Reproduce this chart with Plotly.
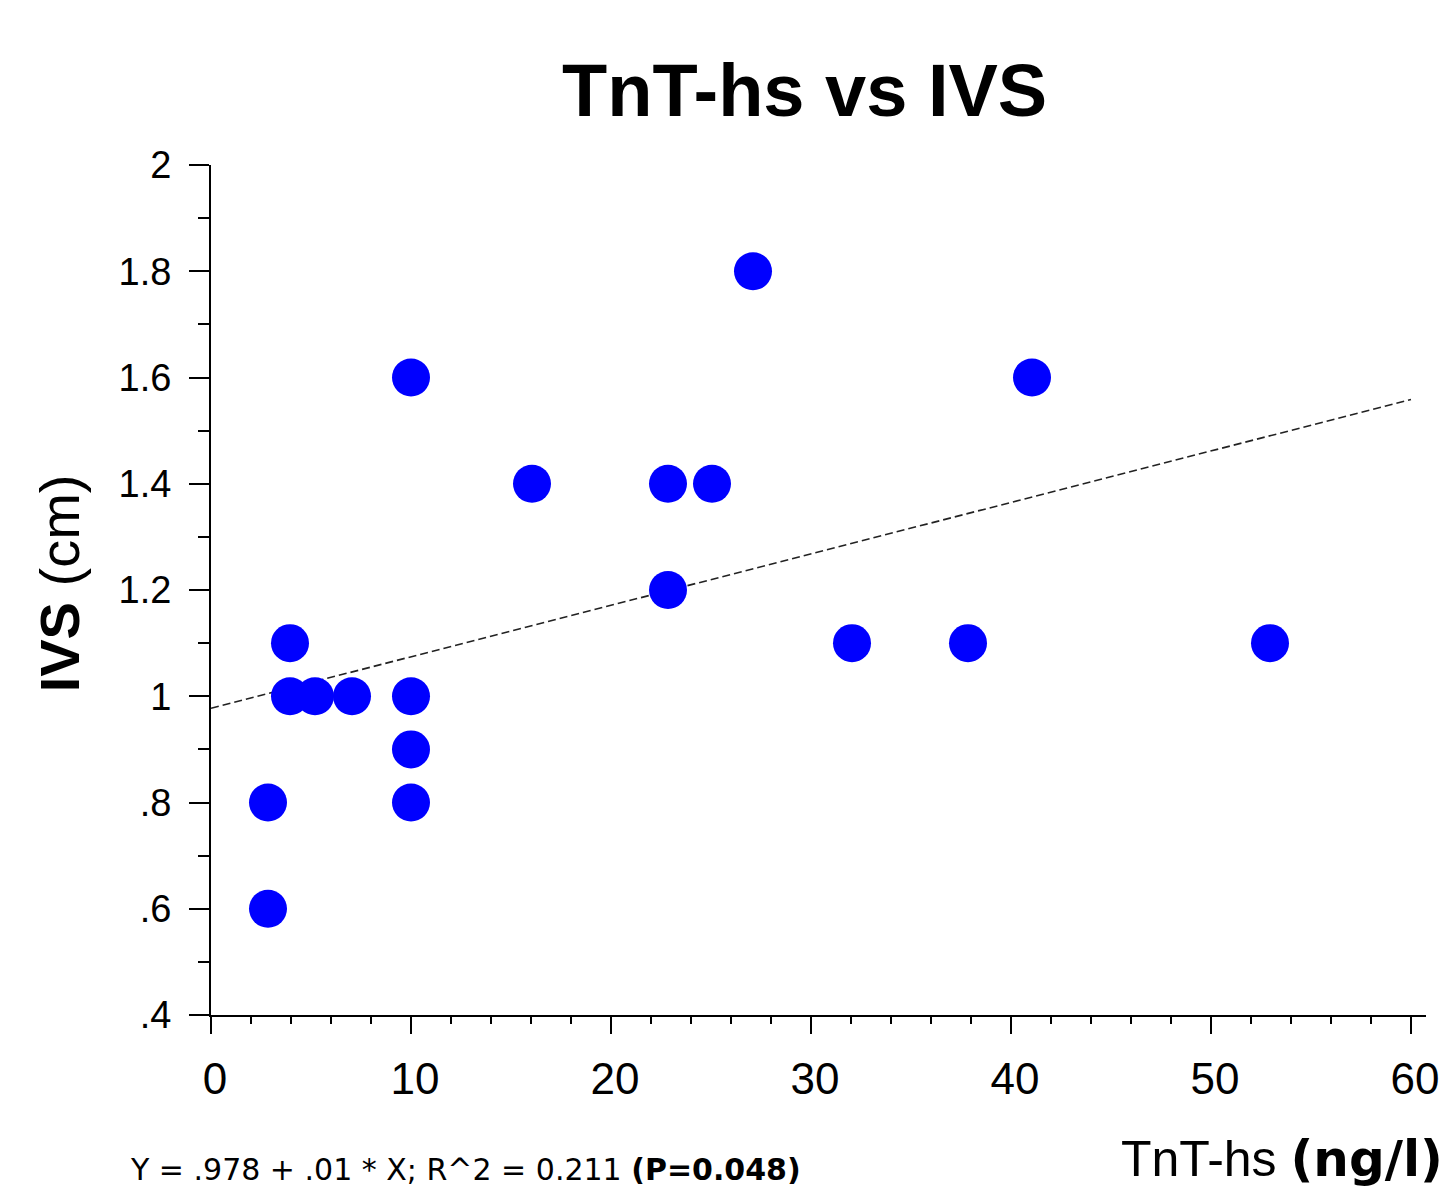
import numpy as np
import plotly.graph_objects as go

# Data
tnt_hs = [2.85, 2.85, 3.95, 3.95, 5.2, 7.05, 10, 10, 10, 10,
          16.05, 22.85, 22.85, 25.05, 27.1, 32.05, 37.85, 41.05, 52.95]
ivs = [0.8, 0.6, 1.1, 1.0, 1.0, 1.0, 1.6, 1.0, 0.9, 0.8,
       1.4, 1.4, 1.2, 1.4, 1.8, 1.1, 1.1, 1.6, 1.1]

x_tickvals = [0, 10, 20, 30, 40, 50, 60]
x_ticktext = ["0", "10", "20", "30", "40", "50", "60"]
y_tickvals = [0.4, 0.6, 0.8, 1.0, 1.2, 1.4, 1.6, 1.8, 2.0]
y_ticktext = [".4", ".6", ".8", "1", "1.2", "1.4", "1.6", "1.8", "2"]

title_text = "<b>TnT-hs vs IVS</b>"
x_title = "TnT-hs <span style=\"font-family:'DejaVu Sans'\"><b>(ng/l)</b></span>"
y_title = "<b>IVS</b> (cm)"
eq_text = "Y = .978 + .01 * X; R^2 = 0.211 <b>(P=0.048)</b>"

# regression from data
slope, intercept = np.polyfit(tnt_hs, ivs, 1)
fit_x = np.array([0, 60])
fit_y = intercept + slope * fit_x

FONT = "Arial, 'Liberation Sans', sans-serif"

fig = go.Figure()
fig.add_trace(go.Scatter(x=fit_x, y=fit_y, mode="lines",
                         line=dict(color="#222222", width=1.6, dash="8px,4px"),
                         hoverinfo="skip", showlegend=False))
fig.add_trace(go.Scatter(x=tnt_hs, y=ivs, mode="markers",
                         marker=dict(color="#0000FF", size=38, line=dict(width=0)),
                         showlegend=False))

axis_common = dict(showgrid=False, zeroline=False, showline=True,
                   linecolor="black", linewidth=2, ticks="outside",
                   tickcolor="black", tickwidth=2)

fig.update_xaxes(range=[0, 60.75], tickvals=x_tickvals, ticktext=x_ticktext,
                 ticklen=17, tickfont=dict(family=FONT, size=44, color="black"),
                 ticklabelshift=4, ticklabelstandoff=7,
                 minor=dict(ticks="outside", ticklen=7, dtick=2, tick0=0,
                            tickcolor="black", tickwidth=2, showgrid=False),
                 **axis_common)
fig.update_yaxes(range=[0.4, 2.0], tickvals=y_tickvals, ticktext=y_ticktext,
                 ticklen=20, tickfont=dict(family=FONT, size=38, color="black"),
                 ticklabelstandoff=10,
                 minor=dict(ticks="outside", ticklen=11, dtick=0.1, tick0=0.4,
                            tickcolor="black", tickwidth=2, showgrid=False),
                 **axis_common)

fig.add_annotation(text=title_text, xref="paper", yref="paper", x=0.4885, y=1.0876,
                   xanchor="center", yanchor="middle", showarrow=False,
                   font=dict(family=FONT, size=74, color="black"))
fig.add_annotation(text=y_title, xref="paper", yref="paper", x=-0.125, y=0.508,
                   xanchor="center", yanchor="middle", textangle=-90, showarrow=False,
                   font=dict(family=FONT, size=56, color="black"))
fig.add_annotation(text=x_title, xref="paper", yref="paper", x=0.7475, y=-0.1694,
                   xanchor="left", yanchor="middle", showarrow=False,
                   font=dict(family=FONT, size=50, color="black"))
fig.add_annotation(text=eq_text, xref="paper", yref="paper", x=-0.0683, y=-0.1812,
                   xanchor="left", yanchor="middle", showarrow=False,
                   font=dict(family="'DejaVu Sans', sans-serif", size=30, color="black"))

fig.update_layout(width=1446, height=1195,
                  margin=dict(l=211, r=20, t=165, b=180, autoexpand=False),
                  plot_bgcolor="white", paper_bgcolor="white",
                  font=dict(family=FONT, color="black"))

fig.write_html("out.html", config={"displayModeBar": False},
               post_script="document.body.style.margin='0';")
